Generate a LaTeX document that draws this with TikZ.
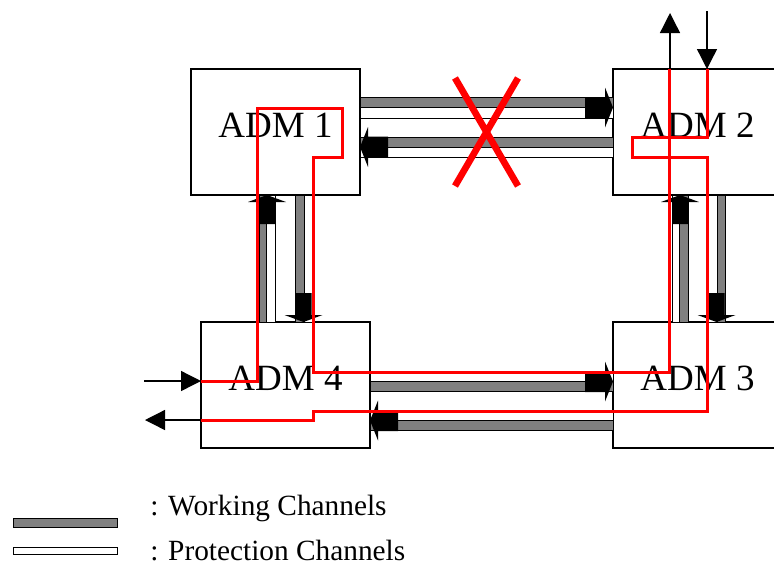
\documentclass[tikz,border=0pt]{standalone}
\usepackage{fontspec}
\setmainfont{Liberation Serif}
\usepackage{tikz}
\usetikzlibrary{arrows.meta,
positioning}

\begin{document}
\begin{tikzpicture}[
				x=0.75pt, y=-0.75pt,
				adm/.style={
					draw,
					fill=white,
					line width=1pt,
					outer sep=0pt,
					inner sep=0pt,
					minimum width=126.75pt,
					minimum height=94.5pt,
					text height=0.82em,
					text depth=0em,
					font=\fontsize{27.75}{30}\selectfont
				},
				working/.style={draw, fill=gray, line width=0.75pt},
				protection/.style={draw, fill=white, line width=0.75pt},
				reroute/.style={red, line width=2.25pt},
				fault/.style={red, line width=5pt},
				signal/.style={line width=1pt, -{Triangle[length=15pt,width=15pt]}},
				legend/.style={anchor=base west, inner sep=0pt, font=\fontsize{22}{26}\selectfont},
				hhead/.pic={\fill (-28,-10.5) -- (-8,-10.5) -- (-8,-20) -- (0,0) -- (-8,20) -- (-8,10.5) -- (-28,10.5) -- cycle;},
				vhead/.pic={\fill (-29,-8) -- (-7,-8) -- (-7,-19) -- (0,0) -- (-7,19) -- (-7,8) -- (-29,8) -- cycle;}
				]
				\useasboundingbox (0,0) rectangle (774,569);
				\clip (0,0) rectangle (774,569);
				
				\node[adm] (adm1) at (275.5,132) {ADM 1};
				\node[adm, right=189.75pt of adm1] (adm2) {ADM 2};
				\node[adm, below=95.25pt of adm2] (adm3) {ADM 3};
				\node[adm, left=182.25pt of adm3] (adm4) {ADM 4};
				
				% ADM 1 <-> ADM 2
				\draw[working] (adm1.east |- 0,97) rectangle (adm2.west |- 0,107);
				\draw[protection] (adm1.east |- 0,107) rectangle (adm2.west |- 0,118);
				\draw[working] (adm1.east |- 0,137) rectangle (adm2.west |- 0,147);
				\draw[protection] (adm1.east |- 0,147) rectangle (adm2.west |- 0,157);
				\pic at (adm2.west |- 0,107.5) {hhead};
				\pic[rotate=180] at (adm1.east |- 0,147) {hhead};
				
				% ADM 1 <-> ADM 4
				\draw[working] (adm1.south -| 259,0) rectangle (adm4.north -| 266,0);
				\draw[protection] (adm1.south -| 266,0) rectangle (adm4.north -| 275,0);
				\draw[working] (adm1.south -| 295,0) rectangle (adm4.north -| 304,0);
				\draw[protection] (adm1.south -| 304,0) rectangle (adm4.north -| 312,0);
				\pic[rotate=90] at (adm1.south -| 267,0) {vhead};
				\pic[rotate=-90] at (adm4.north -| 303.5,0) {vhead};
				
				% ADM 2 <-> ADM 3
				\draw[protection] (adm2.south -| 672,0) rectangle (adm3.north -| 679,0);
				\draw[working] (adm2.south -| 679,0) rectangle (adm3.north -| 688,0);
				\draw[protection] (adm2.south -| 708,0) rectangle (adm3.north -| 717,0);
				\draw[working] (adm2.south -| 717,0) rectangle (adm3.north -| 725,0);
				\pic[rotate=90] at (adm2.south -| 680,0) {vhead};
				\pic[rotate=-90] at (adm3.north -| 716.5,0) {vhead};
				
				% ADM 4 <-> ADM 3
				\draw[protection] (adm4.east |- 0,372) rectangle (adm3.west |- 0,381);
				\draw[working] (adm4.east |- 0,381) rectangle (adm3.west |- 0,391);
				\draw[protection] (adm4.east |- 0,411) rectangle (adm3.west |- 0,420);
				\draw[working] (adm4.east |- 0,420) rectangle (adm3.west |- 0,430);
				\pic at (adm3.west |- 0,381.5) {hhead};
				\pic[rotate=180] at (adm4.east |- 0,420.5) {hhead};
				
				% failed span
				\draw[fault] (455,78) -- (518,186) (518,78) -- (455,186);
				
				% protection route
				\draw[reroute] (adm4.west |- 0,381) -- (257,381) -- (257,108) -- (342,108) -- (342,157)
					-- (313,157) -- (313,372) -- (669,372) -- (adm2.north -| 669,0);
				\draw[reroute] (adm2.north -| 707,0) -- (707,137) -- (632,137) -- (632,157) -- (707,157)
					-- (707,411) -- (313,411) -- (313,420) -- (adm4.west |- 0,420);
				
				% add / drop
				\coordinate (addin) at (144,381);
				\coordinate (dropout) at (145,420);
				\coordinate (addout) at (670,13);
				\coordinate (dropin) at (707,11);
				\draw[signal] (addin) -- (adm4.west |- addin);
				\draw[signal] (adm4.west |- dropout) -- (dropout);
				\draw[signal] (adm2.north -| addout) -- (addout);
				\draw[signal] (dropin) -- (adm2.north -| dropin);
				
				% legend
				\draw[working] (13,518) rectangle (117,527);
				\draw[protection] (13,547) rectangle (117,554);
				\node[legend] (workkey) at (150,515) {: Working Channels};
				\node[legend] (protkey) at (150,560) {: Protection Channels};
			\end{tikzpicture}
\end{document}
